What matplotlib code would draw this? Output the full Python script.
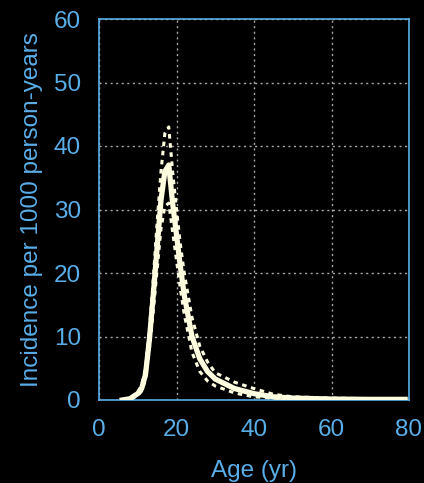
import matplotlib
matplotlib.use("Agg")
import matplotlib.pyplot as plt

ages = [6, 8, 10, 11, 12, 13, 14, 15, 16, 17, 18, 19, 20, 21, 22, 24, 26, 28, 30, 35, 40, 45, 50, 60, 70, 79]
incidence = [0, 0.2, 1.0, 1.8, 4.0, 9.5, 16.5, 24, 31.5, 36, 37, 31, 26, 21, 16.5, 10, 6.5, 4.5, 3.3, 1.8, 1.0, 0.5, 0.3, 0.15, 0.1, 0.1]
upper_ci = [0, 0.3, 1.3, 2.3, 5.0, 11, 19, 28, 36, 42, 43, 36, 30, 24.5, 20, 13, 8.5, 6.0, 4.3, 2.8, 1.8, 0.9, 0.5, 0.3, 0.2, 0.2]
lower_ci = [0, 0.1, 0.7, 1.4, 3.2, 8, 14, 20.5, 27, 30.5, 31, 26.5, 22, 17.5, 13.5, 7.5, 4.5, 3.0, 2.2, 1.1, 0.5, 0.3, 0.15, 0.05, 0, 0]

xticks = [0, 20, 40, 60, 80]
yticks = [0, 10, 20, 30, 40, 50, 60]

blue = "#5aaee8"
cream = "#fffde0"

plt.rcParams['font.family'] = ['Liberation Sans', 'DejaVu Sans']

fig = plt.figure(figsize=(4.24, 4.83), dpi=100, facecolor="black")
ax = fig.add_axes([99/424, 1-400/483, (409-99)/424, (400-19)/483])
ax.set_facecolor("black")

ax.plot(ages, upper_ci, color=cream, lw=2.2, ls=(0, (1.5, 1.5)), zorder=3)
ax.plot(ages, lower_ci, color=cream, lw=2.2, ls=(0, (1.5, 1.5)), zorder=3)
ax.plot(ages, incidence, color=cream, lw=3.8, zorder=4)

ax.set_xlim(0, 80)
ax.set_ylim(0, 60)
ax.set_xticks(xticks)
ax.set_yticks(yticks)
ax.tick_params(length=0, labelsize=17.5, labelcolor=blue, pad=13)
ax.tick_params(axis='x', pad=14)
for s in ax.spines.values():
    s.set_color(blue)
    s.set_linewidth(1.2)
ax.grid(True, color="#aaaaaa", ls=(0, (1.5, 2.5)), lw=1)
ax.set_axisbelow(True)

ax.set_xlabel("Age (yr)", color=blue, fontsize=17.5, labelpad=13)
ax.set_ylabel("Incidence per 1000 person-years", color=blue, fontsize=17.5, labelpad=8)

fig.savefig("out.png", dpi=100, facecolor="black")
